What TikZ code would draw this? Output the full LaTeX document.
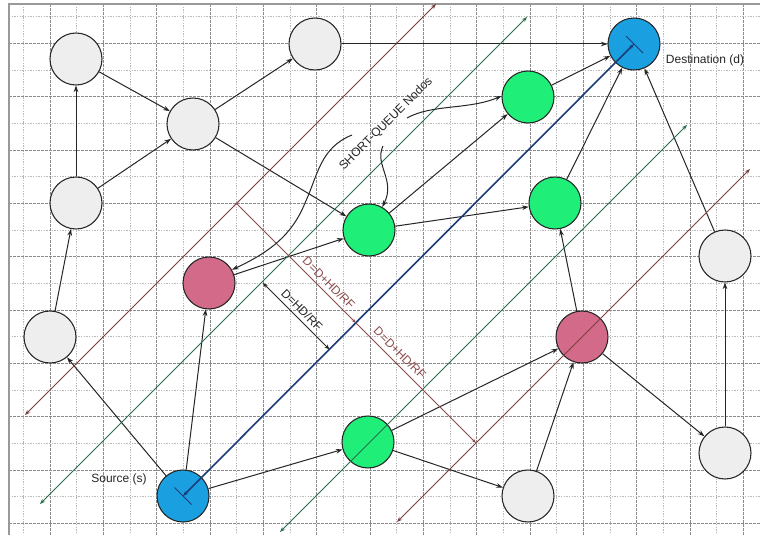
\documentclass[tikz,border=0pt]{standalone}
\usepackage{fontspec}
\setmainfont{Liberation Sans}
\usetikzlibrary{arrows.meta,calc}
\definecolor{nodegrey}{HTML}{EEEEEE}
\definecolor{qgreen}{HTML}{1FEE78}
\definecolor{qpink}{HTML}{D46A8A}
\definecolor{qblue}{HTML}{1AA0E0}
\definecolor{lbrown}{HTML}{7B3F3F}
\definecolor{mbrown}{HTML}{8C4A4A}
\definecolor{lgreen}{HTML}{2B6E4C}
\definecolor{lblue}{HTML}{1B3C78}
\definecolor{gridmaj}{HTML}{8A8A8A}
\definecolor{gridmin}{HTML}{B8B8B8}
\definecolor{framegrey}{HTML}{999999}
\begin{document}
\begin{tikzpicture}[x=0.75pt,y=-0.75pt,
  vtx/.style={circle,draw=black!85,line width=0.8pt,minimum size=39pt,inner sep=0pt},
  greyv/.style={vtx,fill=nodegrey},
  greenv/.style={vtx,fill=qgreen},
  pinkv/.style={vtx,fill=qpink},
  bluev/.style={vtx,fill=qblue},
  edge/.style={draw=black!85,line width=0.75pt,-{Stealth[length=5pt,width=3.5pt]}},
  diag/.style={line width=0.75pt,{Stealth[length=4pt,width=3pt]}-{Stealth[length=4pt,width=3pt]}},
  gmaj/.style={draw=gridmaj,line width=0.6pt,dash pattern=on 2pt off 1pt},
  gmin/.style={draw=gridmin,line width=0.5pt,dash pattern=on 1pt off 1pt},
  lbl/.style={font=\fontsize{9}{10}\selectfont,text=black!85,inner sep=1pt}
]
\useasboundingbox (0,0) rectangle (760,535);
\fill[white] (0,0) rectangle (760,535);
% grid
\foreach \i in {0,...,27}{
  \pgfmathsetmacro\xx{23.33+26.667*\i}
  \ifodd\i \draw[gmaj] (\xx,4) -- (\xx,535); \else \draw[gmin] (\xx,4) -- (\xx,535); \fi
}
\foreach \j in {0,...,19}{
  \pgfmathsetmacro\yy{16.67+26.667*\j}
  \ifodd\j \draw[gmaj] (9,\yy) -- (760,\yy); \else \draw[gmin] (9,\yy) -- (760,\yy); \fi
}
% frame
\draw[framegrey,line width=1pt] (9,535) -- (9,4) -- (760,4);

% nodes
\node[greyv] (tl) at (76,59) {};
\node[greyv] (tm) at (315,44) {};
\node[greyv] (c) at (193,124) {};
\node[greyv] (lm) at (76,203) {};
\node[greyv] (lb) at (50,337) {};
\node[bluev] (src) at (183,496) {};
\node[pinkv] (pk) at (209,283) {};
\node[greenv] (gm) at (369,230) {};
\node[greenv] (gb) at (368,442) {};
\node[bluev] (dst) at (634,44) {};
\node[greenv] (gur) at (528,97) {};
\node[greenv] (gmr) at (555,203) {};
\node[greyv] (gr) at (725,256) {};
\node[pinkv] (pkr) at (582,337) {};
\node[greyv] (gbr) at (725,453) {};
\node[greyv] (gbm) at (528,496) {};

% edges
\draw[edge] (tl) -- (c);
\draw[edge] (lm) -- (tl);
\draw[edge] (lm) -- (c);
\draw[edge] (c) -- (tm);
\draw[edge] (tm) -- (dst);
\draw[edge] (c) -- (gm);
\draw[edge] (lb) -- (lm);
\draw[edge] (src) -- (lb);
\draw[edge] (src) -- (pk);
\draw[edge] (src) -- (gb);
\draw[edge] (pk) -- (gm);
\draw[edge] (gm) -- (gur);
\draw[edge] (gm) -- (gmr);
\draw[edge] (gur) -- (dst);
\draw[edge] (gmr) -- (dst);
\draw[edge] (gr) -- (dst);
\draw[edge] (gbr) -- (gr);
\draw[edge] (pkr) -- (gbr);
\draw[edge] (gbm) -- (pkr);
\draw[edge] (gb) -- (pkr);
\draw[edge] (gb) -- (gbm);
\draw[edge] (pkr) -- (gmr);

% diagonal lines
\coordinate (b1s) at (25,415);  \coordinate (b1e) at (436,4);
\coordinate (g1s) at (40,504);  \coordinate (g1e) at (527,17);
\coordinate (g2s) at (280,532); \coordinate (g2e) at (687,125);
\coordinate (b2s) at (397,522); \coordinate (b2e) at (750,169);
\draw[diag,lbrown] (b1s) -- (b1e);
\draw[diag,lgreen] (g1s) -- (g1e);
\draw[diag,lgreen] (g2s) -- (g2e);
\draw[diag,lbrown] (b2s) -- (b2e);
\draw[diag,lblue,line width=1.2pt] (src.center) -- (dst.center);
\draw[lblue,line width=0.6pt] (174.5,487.5) -- (191.5,504.5);
\draw[lblue,line width=0.6pt] (626,36) -- (643,53);

% distance markers
\coordinate (m1s) at (236.5,203.5);
\coordinate (m1m) at (356,323);
\coordinate (m1e) at (476,443);
\draw[mbrown,line width=0.6pt,-{Stealth[length=3.5pt,width=2.5pt]}] (m1s) -- (m1m);
\draw[mbrown,line width=0.6pt,-{Stealth[length=3.5pt,width=2.5pt]}] (m1m) -- (m1e);
\draw[mbrown,line width=0.6pt] ($(m1s)+(-3,3)$) -- ($(m1s)+(3,-3)$);
\coordinate (m2s) at (263,283);
\coordinate (m2e) at (329.5,349.5);
\draw[black!85,line width=0.6pt,{Stealth[length=4pt,width=3pt]}-{Stealth[length=4pt,width=3pt]}] (m2s) -- (m2e);

\node[lbl,text=mbrown,rotate=-45] (t1) at (329,283) {D=D+HD/RF};
\node[lbl,text=mbrown,rotate=-45] (t2) at (400,353) {D=D+HD/RF};
\node[lbl,rotate=-45] (t3) at (302,310) {D=HD/RF};

% short queue label and curves
\node[lbl,rotate=45] (sq) at (386,124) {SHORT-QUEUE Nodos};
\coordinate (c1s) at (352,135);
\coordinate (c2s) at (383,146);
\coordinate (c3s) at (407,118);
\draw[edge] (c1s) .. controls (320,148) and (318,175) .. (305,203) .. controls (292,235) and (270,252) .. (pk.30);
\draw[edge] (c2s) .. controls (374,165) and (396,180) .. (gm.60);
\draw[edge] (c3s) .. controls (432,104) and (468,110) .. (gur.178);

% labels
\node[lbl] (dlab) at (705,60) {Destination (d)};
\node[lbl] (slab) at (119,479) {Source (s)};
\end{tikzpicture}
\end{document}
